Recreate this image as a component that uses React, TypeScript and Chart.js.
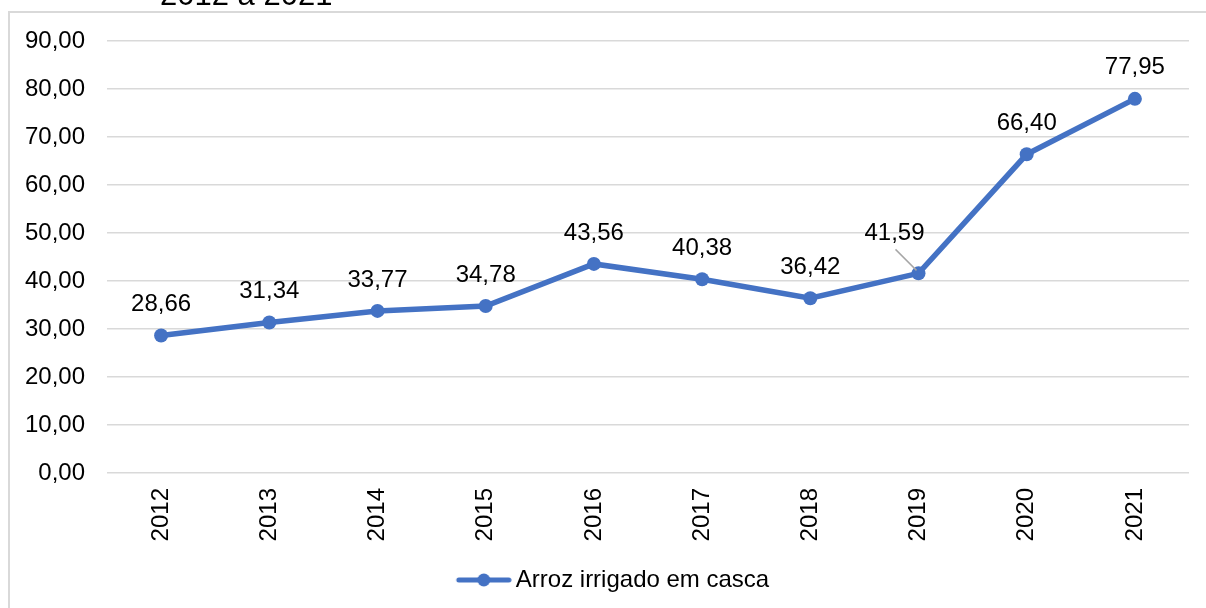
import React, { useEffect, useRef } from "react";
import { Chart, registerables } from "chart.js";

Chart.register(...registerables);

const years = ["2012", "2013", "2014", "2015", "2016", "2017", "2018", "2019", "2020", "2021"];
const values = [28.66, 31.34, 33.77, 34.78, 43.56, 40.38, 36.42, 41.59, 66.4, 77.95];
const seriesName = "Arroz irrigado em casca";
const titleText = "2012 a 2021";
const yMin = 0;
const yMax = 90;
const yStep = 10;

const FONT = "'Liberation Sans', Arial, sans-serif";
const FS = 24;
const BLUE = "#4472C4";
const GRID = "#d9d9d9";
const fmt = (v: number) => v.toFixed(2).replace(".", ",");

const LEGEND_BOX = 84;

function makeLegendIcon(): HTMLCanvasElement {
  const c = document.createElement("canvas");
  c.width = LEGEND_BOX + 16;
  c.height = 16;
  const g = c.getContext("2d")!;
  const x0 = c.width - 56;
  g.strokeStyle = BLUE;
  g.lineWidth = 5;
  g.lineCap = "round";
  g.beginPath();
  g.moveTo(x0 + 3, 8);
  g.lineTo(x0 + 53, 8);
  g.stroke();
  g.fillStyle = BLUE;
  g.beginPath();
  g.arc(x0 + 28, 8, 6.5, 0, Math.PI * 2);
  g.fill();
  return c;
}

const framePlugin = {
  id: "frame",
  beforeDraw(chart: any) {
    const ctx = chart.ctx;
    ctx.save();
    ctx.strokeStyle = GRID;
    ctx.lineWidth = 2;
    ctx.beginPath();
    ctx.moveTo(9, 608);
    ctx.lineTo(9, 12);
    ctx.lineTo(1206, 12);
    ctx.stroke();
    ctx.fillStyle = "#000";
    ctx.font = `31px ${FONT}`;
    ctx.textAlign = "left";
    ctx.textBaseline = "alphabetic";
    ctx.fillText(titleText, 160, 5);
    ctx.restore();
  },
};

const labelPlugin = {
  id: "dataLabels",
  afterDatasetsDraw(chart: any) {
    const ctx = chart.ctx;
    const meta = chart.getDatasetMeta(0);
    ctx.save();
    ctx.font = `${FS}px ${FONT}`;
    ctx.fillStyle = "#000";
    ctx.textAlign = "center";
    ctx.textBaseline = "middle";
    meta.data.forEach((pt: any, i: number) => {
      const x = pt.x;
      const y = pt.y;
      if (i === 7) {
        ctx.strokeStyle = "#a6a6a6";
        ctx.lineWidth = 1.5;
        ctx.beginPath();
        ctx.moveTo(x - 23, y - 24);
        ctx.lineTo(x - 2, y - 3);
        ctx.stroke();
        ctx.fillText(fmt(values[i]), x - 24, y - 40);
      } else {
        ctx.fillText(fmt(values[i]), x, y - 31);
      }
    });
    ctx.restore();
  },
};

export default function App() {
  const ref = useRef<HTMLCanvasElement>(null);

  useEffect(() => {
    if (!ref.current) return;
    const icon = makeLegendIcon();
    const padBottom = 6;
    const chart = new Chart(ref.current, {
      type: "line",
      data: {
        labels: years,
        datasets: [
          {
            label: seriesName,
            data: values,
            borderColor: BLUE,
            backgroundColor: BLUE,
            borderWidth: 5.5,
            pointRadius: 7,
            pointHoverRadius: 7,
            pointBackgroundColor: BLUE,
            pointBorderWidth: 0,
            tension: 0,
            pointStyle: "circle",
          },
        ],
      },
      options: {
        responsive: false,
        devicePixelRatio: 1,
        animation: false,
        layout: { padding: { left: 0, right: 17, top: 41, bottom: padBottom } },
        scales: {
          x: {
            offset: true,
            grid: { display: false, drawTicks: false },
            border: { display: false },
            ticks: {
              color: "#000",
              font: { family: FONT, size: FS },
              minRotation: 90,
              maxRotation: 90,
              padding: 15,
            },
            afterFit(scale: any) {
              const c = scale.chart;
              const lh = c.legend ? c.legend.height : 0;
              scale.height = c.height - padBottom - lh - 473;
            },
          },
          y: {
            min: yMin,
            max: yMax,
            ticks: {
              stepSize: yStep,
              color: "#000",
              font: { family: FONT, size: FS },
              padding: 22,
              callback: (v: any) => fmt(Number(v)),
            },
            grid: { color: GRID, lineWidth: 1.5, drawTicks: false },
            border: { display: false },
            afterFit(scale: any) {
              scale.width = 107;
            },
          },
        },
        plugins: {
          legend: {
            position: "bottom",
            labels: {
              usePointStyle: true,
              pointStyleWidth: LEGEND_BOX,
              boxHeight: 16,
              color: "#000",
              font: { family: FONT, size: FS },
              padding: 10,
              generateLabels: () => [
                {
                  text: seriesName,
                  pointStyle: icon,
                  fillStyle: BLUE,
                  strokeStyle: BLUE,
                  lineWidth: 0,
                  hidden: false,
                  datasetIndex: 0,
                  fontColor: "#000",
                } as any,
              ],
            },
          },
          title: { display: false },
          tooltip: { enabled: false },
        },
      },
      plugins: [framePlugin, labelPlugin],
    });
    return () => chart.destroy();
  }, []);

  return (
    <div style={{ position: "fixed", left: 0, top: 0, width: 1206, height: 608, background: "#fff" }}>
      <canvas ref={ref} width={1206} height={608} style={{ display: "block" }} />
    </div>
  );
}
